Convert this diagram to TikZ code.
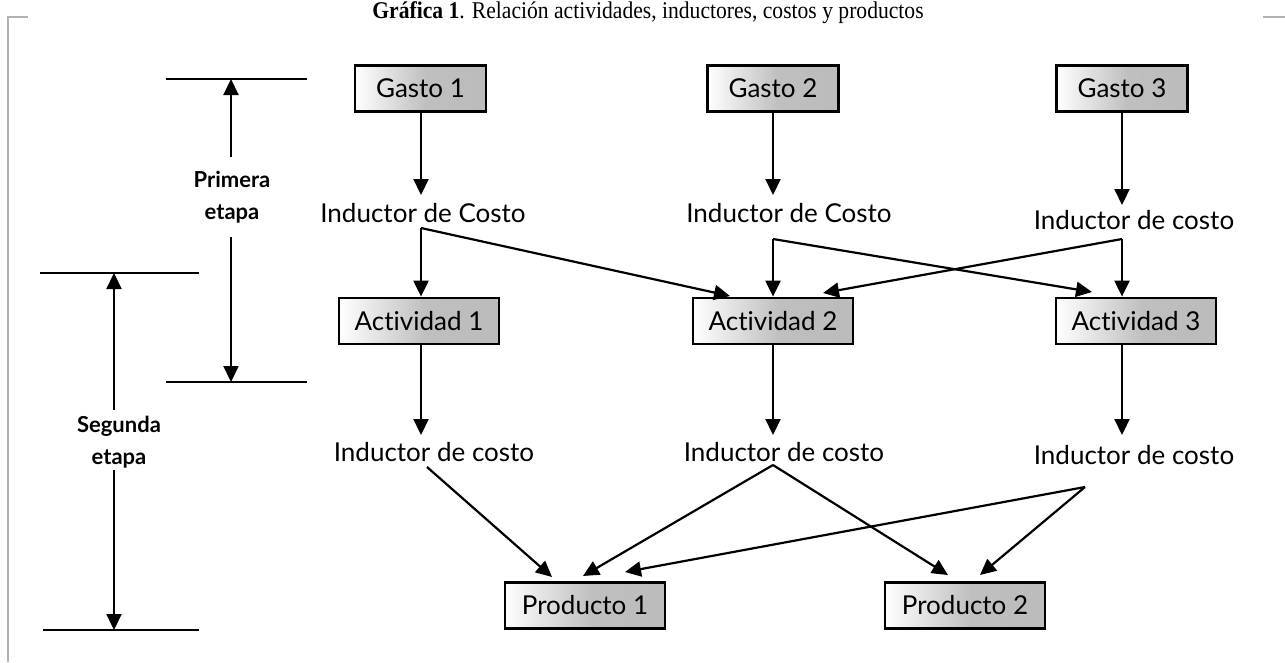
\documentclass[tikz,border=0pt]{standalone}
\usepackage{fontspec}
\setmainfont{Lato}[Ligatures={NoCommon,NoRare}]
\newfontfamily\titlefont[FakeStretch=0.9]{Liberation Serif}
\usetikzlibrary{arrows.meta}
\pgfdeclarehorizontalshading{boxshade}{100bp}{color(0bp)=(white); color(25bp)=(white); color(52bp)=(gray!50); color(75bp)=(gray!53); color(100bp)=(gray!53)}
\tikzset{
  box/.style={draw, line width=2.8pt, shading=boxshade, minimum height=46pt, inner sep=0pt, font=\fontsize{26}{28}\selectfont},
  gbox/.style={box, minimum width=131pt},
  wbox/.style={box, minimum width=160pt},
  ind/.style={inner sep=0pt, font=\fontsize{26}{28}\selectfont},
  stage/.style={inner sep=0pt, align=center, font=\bfseries\fontsize{22}{32}\selectfont},
  arr/.style={line width=2.2pt, -{Triangle[length=16pt,width=15pt]}},
  tickline/.style={line width=2pt},
  frameline/.style={draw=gray!60, line width=1.5pt}
}
\begin{document}
\begin{tikzpicture}[x=1pt,y=-1pt]
\useasboundingbox (0,0) rectangle (1285,662);
% frame
\draw[frameline] (8,662) -- (8,17) -- (28,17);
\draw[frameline] (1263,17) -- (1285,17);
% title
\node[inner sep=0pt, font=\titlefont\fontsize{24}{26}\selectfont] (title) at (648,13) {\textbf{Gráfica 1}. Relación actividades, inductores, costos y productos};
% boxes
\node[gbox] (g1) at (420.5,88.5) {Gasto 1};
\node[gbox] (g2) at (773,88.5) {Gasto 2};
\node[gbox] (g3) at (1122,88.5) {Gasto 3};
\node[ind] (i1) at (423,213) {Inductor de Costo};
\node[ind] (i2) at (789,213) {Inductor de Costo};
\node[ind] (i3) at (1134,220) {Inductor de costo};
\node[wbox] (a1) at (419,321) {Actividad 1};
\node[wbox] (a2) at (773,321) {Actividad 2};
\node[wbox] (a3) at (1136,321) {Actividad 3};
\node[ind] (i4) at (434,452) {Inductor de costo};
\node[ind] (i5) at (784,452) {Inductor de costo};
\node[ind] (i6) at (1134,455) {Inductor de costo};
\node[wbox] (p1) at (585,605.5) {Producto 1};
\node[wbox] (p2) at (965,605.5) {Producto 2};
% coordinates
\coordinate (tg1) at (421,195);
\coordinate (tg2) at (773,195);
\coordinate (tg3) at (1122,205);
\coordinate (c1) at (421,228);
\coordinate (c2) at (773,239);
\coordinate (c3) at (1122,239);
\coordinate (ta2a) at (730,296);
\coordinate (ta3a) at (1092,292);
\coordinate (ta2b) at (823,293);
\coordinate (tg4) at (421,435);
\coordinate (tg5) at (773,435);
\coordinate (tg6) at (1122,435);
\coordinate (d1) at (427,467);
\coordinate (c5) at (773,465);
\coordinate (c6) at (1085,487);
\coordinate (tp1a) at (552,577);
\coordinate (tp1b) at (583,576);
\coordinate (tp2a) at (948,575);
\coordinate (tp2b) at (980,575);
\coordinate (tp1c) at (625,572);
% first stage arrows
\draw[arr] (g1.south -| tg1) -- (tg1);
\draw[arr] (g2.south -| tg2) -- (tg2);
\draw[arr] (g3.south -| tg3) -- (tg3);
\draw[arr] (c1) -- (c1 |- a1.north);
\draw[arr] (c1) -- (ta2a);
\draw[arr] (c2) -- (c2 |- a2.north);
\draw[arr] (c2) -- (ta3a);
\draw[arr] (c3) -- (c3 |- a3.north);
\draw[arr] (c3) -- (ta2b);
% second stage arrows
\draw[arr] (a1.south -| tg4) -- (tg4);
\draw[arr] (a2.south -| tg5) -- (tg5);
\draw[arr] (a3.south -| tg6) -- (tg6);
\draw[arr] (d1) -- (tp1a);
\draw[arr] (c5) -- (tp1b);
\draw[arr] (c5) -- (tp2a);
\draw[arr] (c6) -- (tp2b);
\draw[arr] (c6) -- (tp1c);
% stage markers
\coordinate (m1a) at (166,79); \coordinate (m1b) at (307,79);
\coordinate (m1c) at (166,382); \coordinate (m1d) at (307,382);
\coordinate (m2a) at (40,273); \coordinate (m2b) at (199,273);
\coordinate (m2c) at (43,630); \coordinate (m2d) at (199,630);
\draw[tickline] (m1a) -- (m1b);
\draw[tickline] (m1c) -- (m1d);
\draw[tickline] (m2a) -- (m2b);
\draw[tickline] (m2c) -- (m2d);
\node[stage] (s1) at (232,197) {Primera\\etapa};
\node[stage] (s2) at (119,442) {Segunda\\etapa};
\coordinate (s1t) at (231,157); \coordinate (s1b) at (231,237);
\coordinate (s2t) at (114,410); \coordinate (s2b) at (114,470);
\draw[arr] (s1t) -- (m1a -| s1t);
\draw[arr] (s1b) -- (m1c -| s1b);
\draw[arr] (s2t) -- (m2a -| s2t);
\draw[arr] (s2b) -- (m2c -| s2b);
\end{tikzpicture}
\end{document}
